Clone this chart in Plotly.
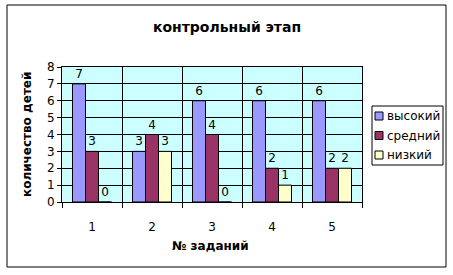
import plotly.graph_objects as go

categories = ["1", "2", "3", "4", "5"]
high = [7, 3, 6, 6, 6]
mid = [3, 4, 4, 2, 2]
low = [0, 3, 0, 1, 2]
series_names = ["высокий", "средний", "низкий"]
colors = ["#9999FF", "#993366", "#FFFFCC"]

font = "DejaVu Sans"
fig = go.Figure()
for name, vals, col in zip(series_names, [high, mid, low], colors):
    fig.add_trace(go.Bar(
        x=categories, y=vals, name=name,
        marker=dict(color=col, line=dict(color="black", width=1)),
        text=[str(v) for v in vals], textposition="outside",
        textfont=dict(family=font, size=12, color="black"),
        cliponaxis=False, showlegend=False,
    ))

# pixel helpers for the plot area (62..362 x, 67..202 y)
def px(x):
    return (x - 62) / 300

def py(y):
    return (202 - y) / 135

fig.update_layout(
    width=453, height=275,
    margin=dict(l=62, r=91, t=67, b=73),
    paper_bgcolor="white",
    plot_bgcolor="#CCFFFF",
    barmode="group", bargap=0.35, bargroupgap=0,
    title=dict(text="<b>контрольный этап</b>", x=227 / 453, xanchor="center",
               y=1 - 27 / 275, yanchor="middle",
               font=dict(family=font, size=14, color="black")),
    font=dict(family=font, size=12, color="black"),
    showlegend=False,
)
fig.update_xaxes(
    type="category", tickson="boundaries", ticks="outside", ticklen=5,
    tickcolor="black", showgrid=True, gridcolor="black", gridwidth=1,
    showline=True, linecolor="black", linewidth=1, mirror=True,
    ticklabelstandoff=14,
    tickfont=dict(family=font, size=12),
)
fig.update_yaxes(
    range=[0, 8], dtick=1, ticks="outside", ticklen=4, tickcolor="black",
    showgrid=True, gridcolor="black", gridwidth=1,
    showline=True, linecolor="black", linewidth=1, mirror=True,
    zeroline=False,
    tickfont=dict(family=font, size=12),
)
# axis titles
fig.add_annotation(text="<b>№ заданий</b>", xref="paper", yref="paper",
                   x=px(210), y=py(246), showarrow=False,
                   font=dict(family=font, size=12, color="black"),
                   xanchor="center", yanchor="middle")
fig.add_annotation(text="<b>количество детей</b>", xref="paper", yref="paper",
                   x=px(27), y=py(135), showarrow=False, textangle=-90,
                   font=dict(family=font, size=12, color="black"),
                   xanchor="center", yanchor="middle")
# outer border
fig.add_shape(type="rect", xref="paper", yref="paper",
              x0=px(7), x1=px(446), y0=py(267), y1=py(5),
              line=dict(color="black", width=1), fillcolor="rgba(0,0,0,0)", layer="below")
# legend box
fig.add_shape(type="rect", xref="paper", yref="paper",
              x0=px(372), x1=px(443), y0=py(165), y1=py(106),
              line=dict(color="black", width=1), fillcolor="white")
for i, (name, col) in enumerate(zip(series_names, colors)):
    cy = 116 + i * 19.5
    fig.add_shape(type="rect", xref="paper", yref="paper",
                  x0=px(375), x1=px(383), y0=py(cy + 4), y1=py(cy - 4),
                  line=dict(color="black", width=1), fillcolor=col)
    fig.add_annotation(text=name, xref="paper", yref="paper",
                       x=px(385), y=py(cy), showarrow=False,
                       xanchor="left", yanchor="middle",
                       font=dict(family=font, size=12, color="black"))
fig.write_html("out.html")
